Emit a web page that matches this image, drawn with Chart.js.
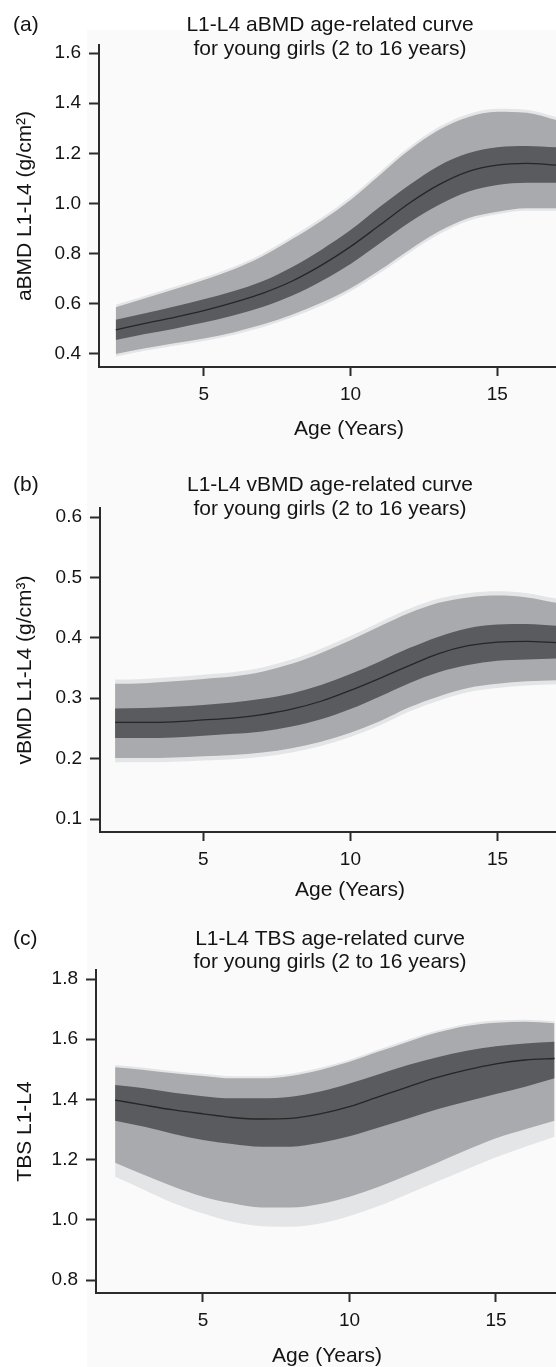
<!DOCTYPE html>
<html>
<head>
<meta charset="utf-8">
<script src="https://cdn.jsdelivr.net/npm/chart.js@4.4.1/dist/chart.umd.min.js"></script>
<style>
  body { margin: 0; background: #fff; }
  canvas { display: block; }
</style>
</head>
<body>
<canvas id="chartA" width="556" height="455"></canvas>
<canvas id="chartB" width="556" height="460"></canvas>
<canvas id="chartC" width="556" height="452"></canvas>
<script>
const ages = [2, 3, 4, 5, 6, 7, 8, 9, 10, 11, 12, 13, 14, 15, 16, 17];
const xTicks = [5, 10, 15];

// (a) aBMD g/cm2
const aTicks = [0.4, 0.6, 0.8, 1.0, 1.2, 1.4, 1.6];
const aMean = [0.496, 0.522, 0.546, 0.573, 0.605, 0.642, 0.690, 0.753, 0.828, 0.914, 1.001, 1.074, 1.127, 1.153, 1.160, 1.153];
const aDarkUp = [0.536, 0.562, 0.589, 0.618, 0.650, 0.690, 0.746, 0.815, 0.894, 0.987, 1.074, 1.150, 1.200, 1.224, 1.229, 1.224];
const aDarkLo = [0.456, 0.480, 0.501, 0.525, 0.553, 0.587, 0.632, 0.690, 0.759, 0.841, 0.924, 0.994, 1.047, 1.074, 1.083, 1.083];
const aMidUp = [0.586, 0.622, 0.658, 0.695, 0.737, 0.790, 0.857, 0.930, 1.014, 1.114, 1.213, 1.293, 1.344, 1.366, 1.362, 1.333];
const aMidLo = [0.400, 0.423, 0.443, 0.462, 0.486, 0.517, 0.556, 0.604, 0.662, 0.735, 0.815, 0.888, 0.941, 0.967, 0.981, 0.981];
const aLightUp = [0.596, 0.632, 0.668, 0.705, 0.747, 0.800, 0.868, 0.942, 1.026, 1.126, 1.225, 1.305, 1.356, 1.378, 1.374, 1.345];
const aLightLo = [0.390, 0.413, 0.433, 0.452, 0.476, 0.507, 0.545, 0.592, 0.650, 0.723, 0.803, 0.876, 0.930, 0.957, 0.971, 0.971];

// (b) vBMD g/cm3
const bTicks = [0.1, 0.2, 0.3, 0.4, 0.5, 0.6];
const bMean = [0.260, 0.260, 0.261, 0.264, 0.267, 0.273, 0.282, 0.295, 0.313, 0.333, 0.354, 0.374, 0.387, 0.393, 0.394, 0.392];
const bDarkUp = [0.283, 0.284, 0.286, 0.289, 0.293, 0.299, 0.308, 0.322, 0.340, 0.361, 0.383, 0.402, 0.416, 0.422, 0.423, 0.420];
const bDarkLo = [0.234, 0.234, 0.235, 0.238, 0.241, 0.245, 0.253, 0.265, 0.282, 0.303, 0.325, 0.343, 0.355, 0.362, 0.364, 0.366];
const bMidUp = [0.324, 0.325, 0.328, 0.332, 0.336, 0.344, 0.357, 0.375, 0.396, 0.419, 0.441, 0.458, 0.467, 0.470, 0.467, 0.458];
const bMidLo = [0.201, 0.201, 0.202, 0.204, 0.206, 0.210, 0.217, 0.228, 0.243, 0.262, 0.285, 0.303, 0.317, 0.324, 0.328, 0.330];
const bLightUp = [0.331, 0.332, 0.335, 0.339, 0.343, 0.351, 0.364, 0.382, 0.403, 0.426, 0.448, 0.465, 0.474, 0.477, 0.474, 0.465];
const bLightLo = [0.194, 0.194, 0.195, 0.197, 0.199, 0.203, 0.210, 0.221, 0.236, 0.255, 0.278, 0.296, 0.310, 0.317, 0.321, 0.323];

// (c) TBS
const cTicks = [0.8, 1.0, 1.2, 1.4, 1.6, 1.8];
const cMean = [1.398, 1.381, 1.365, 1.352, 1.340, 1.335, 1.337, 1.352, 1.376, 1.409, 1.442, 1.473, 1.498, 1.518, 1.531, 1.536];
const cDarkUp = [1.448, 1.437, 1.422, 1.411, 1.404, 1.404, 1.409, 1.426, 1.453, 1.484, 1.514, 1.540, 1.562, 1.577, 1.586, 1.592];
const cDarkLo = [1.329, 1.309, 1.285, 1.265, 1.252, 1.243, 1.243, 1.256, 1.278, 1.307, 1.337, 1.367, 1.393, 1.418, 1.442, 1.470];
const cMidUp = [1.507, 1.498, 1.487, 1.478, 1.470, 1.470, 1.478, 1.498, 1.525, 1.559, 1.592, 1.622, 1.644, 1.655, 1.658, 1.653];
const cMidLo = [1.190, 1.149, 1.110, 1.077, 1.055, 1.041, 1.041, 1.053, 1.077, 1.110, 1.149, 1.190, 1.232, 1.271, 1.301, 1.329];
const cLightUp = [1.514, 1.505, 1.494, 1.485, 1.477, 1.477, 1.485, 1.505, 1.532, 1.566, 1.599, 1.629, 1.651, 1.662, 1.665, 1.660];
const cLightLo = [1.143, 1.099, 1.055, 1.021, 0.994, 0.979, 0.977, 0.988, 1.013, 1.046, 1.086, 1.127, 1.168, 1.208, 1.243, 1.276];

const FONT = '"Liberation Sans", Arial, Helvetica, sans-serif';
const TEXT = '#141414';
const AXIS = '#2b2b2b';
const LIGHT = '#e4e5e6';
const MID = '#a8aaad';
const DARK = '#5a5b5e';
const LINE = '#262626';

function pts(vals) {
    return vals.map((v, i) => ({ x: ages[i], y: v }));
}

function bandSets(p) {
    const edge = { borderWidth: 0, borderColor: 'rgba(0,0,0,0)', pointRadius: 0, cubicInterpolationMode: 'monotone' };
    return [
        { ...edge, data: pts(p.lightUp), fill: 1, backgroundColor: LIGHT, order: 4 },
        { ...edge, data: pts(p.lightLo), fill: false, order: 4 },
        { ...edge, data: pts(p.midUp), fill: 3, backgroundColor: MID, order: 3 },
        { ...edge, data: pts(p.midLo), fill: false, order: 3 },
        { ...edge, data: pts(p.darkUp), fill: 5, backgroundColor: DARK, order: 2 },
        { ...edge, data: pts(p.darkLo), fill: false, order: 2 },
        { data: pts(p.mean), fill: false, borderColor: LINE, borderWidth: 1.3, pointRadius: 0, cubicInterpolationMode: 'monotone', order: 1 }
    ];
}

// panel label, two-line title and x-axis title (the source figure is cropped on the right)
const headerPlugin = {
    id: 'header',
    beforeDraw(chart, args, opts) {
        const ctx = chart.ctx;
        ctx.save();
        ctx.fillStyle = '#fafafa';
        ctx.fillRect(87, opts.shadeTop, chart.width - 87, chart.height - opts.shadeTop);
        ctx.restore();
    },
    afterDraw(chart, args, opts) {
        const ctx = chart.ctx;
        ctx.save();
        ctx.fillStyle = TEXT;
        ctx.font = '21px ' + FONT;
        ctx.textBaseline = 'alphabetic';
        ctx.textAlign = 'left';
        ctx.fillText(opts.tag, 13, opts.lines[0]);
        ctx.textAlign = 'center';
        ctx.fillText(opts.title[0], 330, opts.lines[0]);
        ctx.fillText(opts.title[1], 330, opts.lines[1]);
        ctx.textBaseline = 'middle';
        ctx.fillText('Age (Years)', opts.xTitleX, opts.xTitleY);
        ctx.restore();
    }
};

function makeChart(id, p) {
    new Chart(document.getElementById(id), {
        type: 'line',
        data: { datasets: bandSets(p) },
        plugins: [headerPlugin],
        options: {
            responsive: false,
            animation: false,
            devicePixelRatio: 1,
            layout: { padding: { top: p.top, left: 0, right: 0, bottom: 0 } },
            plugins: {
                legend: { display: false },
                tooltip: { enabled: false },
                header: { tag: p.tag, title: p.title, lines: p.lines, shadeTop: p.shadeTop, xTitleX: p.xTitleX, xTitleY: p.xTitleY }
            },
            scales: {
                x: {
                    type: 'linear',
                    min: p.xMin,
                    max: p.xMax,
                    afterFit: s => { s.height = p.xHeight; },
                    afterBuildTicks: s => { s.ticks = xTicks.map(v => ({ value: v })); },
                    grid: { drawOnChartArea: false, drawTicks: true, tickLength: 9, tickColor: AXIS, tickWidth: 2 },
                    border: { display: true, color: AXIS, width: 2 },
                    ticks: { color: TEXT, font: { family: FONT, size: 19 }, padding: 7, callback: v => String(v) },
                    title: { display: false }
                },
                y: {
                    min: p.yMin,
                    max: p.yMax,
                    afterFit: s => { s.width = p.left; },
                    afterBuildTicks: s => { s.ticks = p.yTicks.map(v => ({ value: v })); },
                    grid: { drawOnChartArea: false, drawTicks: true, tickLength: 10, tickColor: AXIS, tickWidth: 2 },
                    border: { display: true, color: AXIS, width: 2 },
                    ticks: { color: TEXT, font: { family: FONT, size: 19 }, padding: 8, callback: v => v.toFixed(1) },
                    title: { display: true, text: p.yTitle, color: TEXT, font: { family: FONT, size: 21 }, padding: { top: 13, bottom: 0 } }
                }
            }
        }
    });
}

makeChart('chartA', {
    tag: '(a)',
    title: ['L1-L4 aBMD age-related curve', 'for young girls (2 to 16 years)'],
    lines: [31, 55], shadeTop: 30,
    top: 45, left: 99, xHeight: 88, xTitleX: 349, xTitleY: 429,
    xMin: 1.43, xMax: 17.0, yMin: 0.348, yMax: 1.632,
    yTicks: aTicks, yTitle: 'aBMD L1-L4 (g/cm\u00B2)',
    mean: aMean, darkUp: aDarkUp, darkLo: aDarkLo, midUp: aMidUp, midLo: aMidLo, lightUp: aLightUp, lightLo: aLightLo
});

makeChart('chartB', {
    tag: '(b)',
    title: ['L1-L4 vBMD age-related curve', 'for young girls (2 to 16 years)'],
    lines: [36, 60], shadeTop: 0,
    top: 53, left: 100, xHeight: 83, xTitleX: 350, xTitleY: 435,
    xMin: 1.486, xMax: 16.99, yMin: 0.0785, yMax: 0.615,
    yTicks: bTicks, yTitle: 'vBMD L1-L4 (g/cm\u00B3)',
    mean: bMean, darkUp: bDarkUp, darkLo: bDarkLo, midUp: bMidUp, midLo: bMidLo, lightUp: bLightUp, lightLo: bLightLo
});

makeChart('chartC', {
    tag: '(c)',
    title: ['L1-L4 TBS age-related curve', 'for young girls (2 to 16 years)'],
    lines: [30, 53], shadeTop: 0,
    top: 55, left: 96, xHeight: 74, xTitleX: 327, xTitleY: 441,
    xMin: 1.348, xMax: 17.05, yMin: 0.757, yMax: 1.83,
    yTicks: cTicks, yTitle: 'TBS L1-L4',
    mean: cMean, darkUp: cDarkUp, darkLo: cDarkLo, midUp: cMidUp, midLo: cMidLo, lightUp: cLightUp, lightLo: cLightLo
});
</script>
</body>
</html>
